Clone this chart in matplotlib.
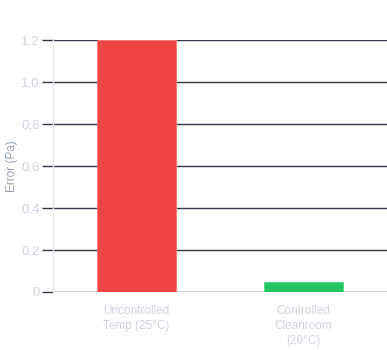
import matplotlib.pyplot as plt
from matplotlib.ticker import FuncFormatter

# data
categories = ["Uncontrolled\nTemp (25°C)", "Controlled\nCleanroom\n(20°C)"]
errors = [1.2, 0.048]
bar_colors = ["#ef4444", "#22c55e"]
edge_colors = ["#f47a7a", "#5fd98a"]
y_ticks = [0, 0.2, 0.4, 0.6, 0.8, 1.0, 1.2]

plt.rcParams['font.family'] = ['Liberation Sans', 'DejaVu Sans']

fig = plt.figure(figsize=(3.87, 3.5), dpi=100)
ax = fig.add_axes([53 / 387, 58 / 350, 334 / 387, 252 / 350])

x = range(len(categories))
ax.bar(x, errors, width=0.475, color=bar_colors, edgecolor=edge_colors,
       linewidth=0.8, zorder=3)

ax.set_xlim(-0.5, 1.5)
ax.set_ylim(0, 1.2)
ax.set_yticks(y_ticks)
ax.yaxis.set_major_formatter(FuncFormatter(
    lambda v, p: "0" if v == 0 else ("%.1f" % v).replace(".", ",")))
ax.set_xticks(list(x))
ax.set_xticklabels(categories, linespacing=1.35)

ax.grid(axis='y', color="#2d3748", linewidth=1.0, zorder=1)
for s in ['top', 'right', 'bottom']:
    ax.spines[s].set_visible(False)
ax.spines['left'].set_color("#e2e8f0")
ax.spines['left'].set_linewidth(1.0)

ax.tick_params(axis='y', length=8, width=1.0, color="#2d3748",
               labelcolor="#cbd5e1", labelsize=9.5, pad=1.5)
ax.tick_params(axis='x', length=0, labelcolor="#cbd5e1", labelsize=8.5, pad=9)

ax.set_ylabel("Error (Pa)", color="#94a3b8", fontsize=8.5)
ax.yaxis.set_label_coords(-35 / 334, 0.5)

fig.savefig("out.png", dpi=100)
